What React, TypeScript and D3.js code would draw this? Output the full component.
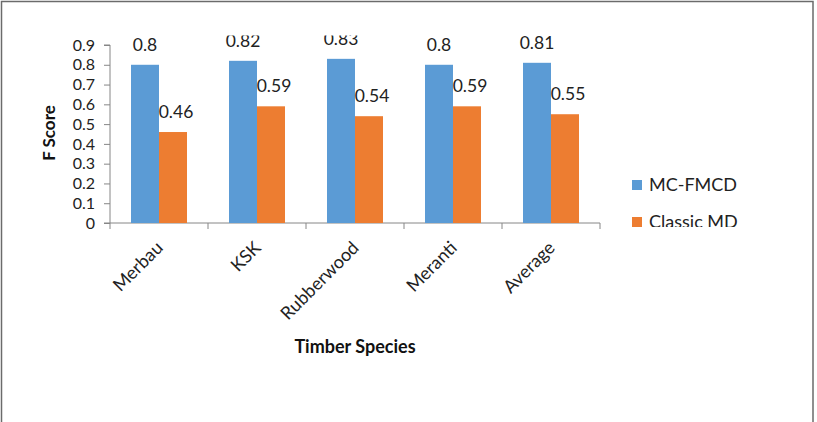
import React, { useRef, useEffect } from "react";
import * as d3 from "d3";

const WIDTH = 817;
const HEIGHT = 422;
const PLOT = { left: 110, right: 600, top: 45, bottom: 223 };

const categories = ["Merbau", "KSK", "Rubberwood", "Meranti", "Average"];
const seriesNames = ["MC-FMCD", "Classic MD"];
const mcFmcd = [0.8, 0.82, 0.83, 0.8, 0.81];
const classicMd = [0.46, 0.59, 0.54, 0.59, 0.55];
const yTicks = [0, 0.1, 0.2, 0.3, 0.4, 0.5, 0.6, 0.7, 0.8, 0.9];
const colors = ["#5B9BD5", "#ED7D31"];

const FONT = "Lato, 'Open Sans', sans-serif";

export default function App() {
  const svgRef = useRef<SVGSVGElement | null>(null);

  useEffect(() => {
    const svg = d3.select(svgRef.current);
    svg.selectAll("*").remove();

    const values = [mcFmcd, classicMd];

    const x0 = d3
      .scaleBand<string>()
      .domain(categories)
      .range([PLOT.left, PLOT.right])
      .padding(0);
    const x1 = d3
      .scaleBand<string>()
      .domain(seriesNames)
      .range([0, x0.bandwidth()])
      .paddingInner(0)
      .paddingOuter(0.75);
    const y = d3.scaleLinear().domain([0, 0.9]).range([PLOT.bottom, PLOT.top]);

    // outer frame (bottom edge sits below the visible area)
    svg
      .append("path")
      .attr("d", `M1.5,${HEIGHT + 2} V1.5 H813 V${HEIGHT + 2}`)
      .attr("fill", "none")
      .attr("stroke", "#6b6b6b")
      .attr("stroke-width", 1.5);

    const defs = svg.append("defs");
    defs
      .append("clipPath")
      .attr("id", "label-clip")
      .append("rect")
      .attr("x", 0)
      .attr("y", 35.5)
      .attr("width", WIDTH)
      .attr("height", HEIGHT);
    defs
      .append("clipPath")
      .attr("id", "legend-clip")
      .append("rect")
      .attr("x", 600)
      .attr("y", 170)
      .attr("width", 200)
      .attr("height", 57);

    // y axis
    const yAxis = svg
      .append("g")
      .attr("transform", `translate(${PLOT.left},0)`)
      .call(
        d3
          .axisLeft(y)
          .tickValues(yTicks)
          .tickSize(6)
          .tickPadding(9)
          .tickFormat((d) => String(d))
      );
    yAxis.select(".domain").attr("d", `M-6,${PLOT.bottom}H0V${PLOT.top}H-6`);
    yAxis.selectAll("line").attr("stroke", "#868686");
    yAxis.select(".domain").attr("stroke", "#868686");
    yAxis
      .selectAll("text")
      .attr("font-family", FONT)
      .attr("font-size", 16)
      .attr("fill", "#222");

    // x axis with ticks between categories
    const xAxis = svg
      .append("g")
      .attr("transform", `translate(0,${PLOT.bottom})`);
    xAxis
      .append("line")
      .attr("x1", PLOT.left)
      .attr("x2", PLOT.right)
      .attr("stroke", "#868686");
    const boundaries = categories.map((c) => x0(c) as number).concat(PLOT.right);
    xAxis
      .selectAll("line.tick")
      .data(boundaries)
      .enter()
      .append("line")
      .attr("class", "tick")
      .attr("x1", (d) => d)
      .attr("x2", (d) => d)
      .attr("y1", 0)
      .attr("y2", 6)
      .attr("stroke", "#868686");
    xAxis
      .selectAll("text")
      .data(categories)
      .enter()
      .append("text")
      .attr(
        "transform",
        (d) => `translate(${(x0(d) as number) + x0.bandwidth() / 2 + 5},26) rotate(-45)`
      )
      .attr("text-anchor", "end")
      .attr("font-family", FONT)
      .attr("font-size", 18)
      .attr("fill", "#222")
      .text((d) => d);

    // bars
    const groups = svg
      .append("g")
      .selectAll("g")
      .data(seriesNames)
      .enter()
      .append("g")
      .attr("fill", (_, i) => colors[i]);
    groups
      .selectAll("rect")
      .data((_, i) => values[i].map((v, j) => ({ v, cat: categories[j], s: seriesNames[i] })))
      .enter()
      .append("rect")
      .attr("x", (d) => (x0(d.cat) as number) + (x1(d.s) as number))
      .attr("width", x1.bandwidth())
      .attr("y", (d) => y(d.v))
      .attr("height", (d) => y(0) - y(d.v));

    // value labels
    const labels = svg.append("g").attr("clip-path", "url(#label-clip)");
    seriesNames.forEach((s, i) => {
      labels
        .selectAll(`text.s${i}`)
        .data(values[i].map((v, j) => ({ v, cat: categories[j] })))
        .enter()
        .append("text")
        .attr("class", `s${i}`)
        .attr("x", (d) => (x0(d.cat) as number) + (x1(s) as number) + x1.bandwidth() / 2 + i * 3)
        .attr("y", (d) => y(d.v) - 14)
        .attr("text-anchor", "middle")
        .attr("font-family", FONT)
        .attr("font-size", 17.5)
        .attr("fill", "#222")
        .text((d) => String(d.v));
    });

    // axis titles
    svg
      .append("text")
      .attr("transform", `translate(55,133) rotate(-90)`)
      .attr("text-anchor", "middle")
      .attr("font-family", FONT)
      .attr("font-weight", "bold")
      .attr("font-size", 17)
      .attr("fill", "#111")
      .text("F Score");
    svg
      .append("text")
      .attr("x", 355)
      .attr("y", 353)
      .attr("text-anchor", "middle")
      .attr("font-family", FONT)
      .attr("font-weight", "bold")
      .attr("font-size", 18)
      .attr("fill", "#111")
      .text("Timber Species");

    // legend
    const legend = svg
      .append("g")
      .attr("clip-path", "url(#legend-clip)")
      .selectAll("g")
      .data(seriesNames)
      .enter()
      .append("g")
      .attr("transform", (_, i) => `translate(632,${180 + i * 37})`);
    legend
      .append("rect")
      .attr("width", 10)
      .attr("height", 10)
      .attr("fill", (_, i) => colors[i]);
    legend
      .append("text")
      .attr("x", 17)
      .attr("y", 11)
      .attr("font-family", FONT)
      .attr("font-size", 18)
      .attr("fill", "#222")
      .text((d) => d);
  }, []);

  return (
    <svg
      ref={svgRef}
      width={WIDTH}
      height={HEIGHT}
      style={{ position: "fixed", left: 0, top: 0, background: "#fff" }}
    />
  );
}
